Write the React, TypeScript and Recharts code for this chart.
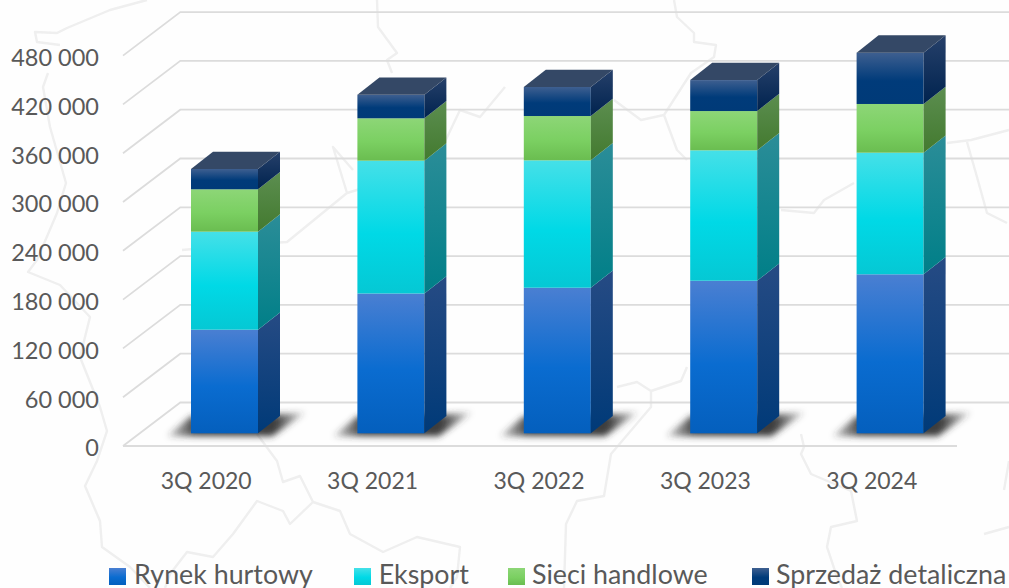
import { BarChart, Bar, XAxis, YAxis, CartesianGrid, Legend } from 'recharts';

const categories = ['3Q 2020', '3Q 2021', '3Q 2022', '3Q 2023', '3Q 2024'];
const rynekHurtowy = [127400, 171900, 179000, 187600, 195500];
const eksport = [120500, 163300, 156600, 160300, 149500];
const sieciHandlowe = [52100, 52100, 54500, 48300, 59900];
const sprzedazDetaliczna = [25000, 29000, 35700, 38100, 63100];
const yTicks = [0, 60000, 120000, 180000, 240000, 300000, 360000, 420000, 480000];

const data = categories.map((name, i) => ({
  name,
  rynek: rynekHurtowy[i],
  eksport: eksport[i],
  sieci: sieciHandlowe[i],
  detal: sprzedazDetaliczna[i],
}));

// kolory: przód (góra, środek, dół) i bok (góra, dół)
const palettes = [
  { front: ['#4a7fd2', '#0a6cd0', '#045fbd'], side: ['#264b84', '#003a78'] },
  { front: ['#45e0e8', '#00d9e6', '#05c8d4'], side: ['#2b8d98', '#007f88'] },
  { front: ['#8dd677', '#7bd062', '#6abd50'], side: ['#5c8e50', '#437a2f'] },
  { front: ['#3e5f90', '#003b7a', '#003a78'], side: ['#26406a', '#00234f'] },
];

// geometria pseudo-3D
const WALL_DX = 57.3;
const WALL_DY = 43.5;
const BAR_OX = 18;
const BAR_OY = 12.7;
const DEPTH_X = 22;
const DEPTH_Y = 17.3;

// tło: blady kontur mapy
const mapLines = [
  'M147 0 L110 10 L67 28 L57 33 L35 32 L37 42 L60 45 M48 73 L43 87 L50 127 L66 183 L57 213 L37 260 L28 272 L60 285 L90 317 L80 357 L100 407 L107 431 L97 461 L85 486 L100 521 L102 547 L130 567 L150 588',
  'M257 434 L277 461 L283 482 L300 476 L313 502 L290 524 L283 511 L257 501 L233 534 L213 557 L187 552 L170 574 L165 588',
  'M313 502 L340 511 L350 534 L383 552 L417 537 L460 547 L457 577 L450 588',
  'M564 588 L566 524 L577 501 L604 496 L611 454 L651 407 L651 391 L637 382 L617 387 M651 391 L681 381 L687 367',
  'M801 434 L804 447 L801 454 L811 474 L851 491 L857 521 L831 527 L827 547 L837 577 L842 588',
  'M984 534 L1009 527 M1009 461 L1004 490',
  'M674 0 L677 17 L694 33 L694 42 L716 45 L714 57 L691 73 L664 115 L641 120 L614 100 M664 115 L677 150 L687 160',
  'M377 0 L378 27 L397 53 L387 60 L392 73 M505 87 L480 117 L460 110 L433 167 L347 193 L287 242 L240 245 L182 250 M347 193 L333 147 L353 170',
  'M1009 130 L971 140 L947 143 M967 142 L977 177 L987 213 L1007 223 M854 183 L824 200 L814 213 L781 210',
];

const formatTick = (v: number) => String(v).replace(/\B(?=(\d{3})+$)/g, ' ');

const gridLine = (props: any) => {
  const { x1, x2, y1, index } = props;
  const isFloor = Math.abs(y1 - 446) < 1;
  const d =
    `M${x1} ${y1} L${x1 + WALL_DX} ${y1 - WALL_DY} L${x2 + WALL_DX} ${y1 - WALL_DY}` +
    (isFloor ? ` M${x1} ${y1} L${x2 + 2} ${y1}` : '');
  return <path key={`grid-${index}`} d={d} fill="none" stroke="#dcdcdc" strokeWidth={1.8} />;
};

// słupek z bokiem, a dla serii skrajnych także z cieniem lub wierzchem
const box3d = (series: number) => (props: any) => {
  const { width: w, height: h, index } = props;
  const x = props.x + BAR_OX;
  const y = props.y - BAR_OY;
  const base = y + h;
  return (
    <g key={`box-${series}-${index}`}>
      {series === 0 && (
        <polygon
          points={`${x - 24},${base + 3} ${x},${base - 17} ${x + w + 22},${base - 19} ${x + w + 48},${base - 21} ${x + w + 14},${base + 3}`}
          fill="url(#shadowFill)"
          filter="url(#shadowBlur)"
        />
      )}
      <rect x={x} y={y} width={w} height={h} fill={`url(#front${series})`} />
      <polygon
        points={`${x + w},${y} ${x + w + DEPTH_X},${y - DEPTH_Y} ${x + w + DEPTH_X},${base - DEPTH_Y} ${x + w},${base}`}
        fill={`url(#side${series})`}
      />
      {series === 3 && (
        <polygon
          points={`${x},${y} ${x + DEPTH_X},${y - DEPTH_Y} ${x + w + DEPTH_X},${y - DEPTH_Y} ${x + w},${y}`}
          fill="#344866"
        />
      )}
    </g>
  );
};

const legendSlots = [
  { icon: 109, text: 134 },
  { icon: 354, text: 378.7 },
  { icon: 508, text: 532 },
  { icon: 752, text: 776 },
];

const renderLegend = (props: any) => (
  <svg width={1009} height={30} style={{ display: 'block', overflow: 'visible' }}>
    {(props.payload || []).map((item: any, i: number) => (
      <g key={item.value}>
        <rect x={legendSlots[i].icon} y={10} width={17} height={17} fill={`url(#front${i})`} />
        <text x={legendSlots[i].text} y={25.5} fontSize={26.8} fill="#595959" fontFamily="Lato">
          {item.value}
        </text>
      </g>
    ))}
  </svg>
);

const App = () => {
  return (
    <div style={{ position: 'absolute', left: 0, top: 0, width: 1009, height: 588, overflow: 'hidden', background: '#fefefe' }}>
      <svg width={1009} height={588} style={{ position: 'absolute', left: 0, top: 0 }}>
        <defs>
          <filter id="mapBlur">
            <feGaussianBlur stdDeviation="0.7" />
          </filter>
        </defs>
        <g filter="url(#mapBlur)">
          {mapLines.map((d, i) => (
            <path key={i} d={d} fill="none" stroke="#efefef" strokeWidth={2.4} strokeLinejoin="round" />
          ))}
        </g>
      </svg>
      <BarChart
        width={1009}
        height={588}
        data={data}
        barSize={67}
        margin={{ top: 55.6, right: 54, bottom: 52, left: 0 }}
        style={{ position: 'absolute', left: 0, top: 0 }}
      >
        <defs>
          {palettes.map((p, i) => (
            <linearGradient key={`f${i}`} id={`front${i}`} x1="0" y1="0" x2="0" y2="1">
              <stop offset="0%" stopColor={p.front[0]} />
              <stop offset="55%" stopColor={p.front[1]} />
              <stop offset="100%" stopColor={p.front[2]} />
            </linearGradient>
          ))}
          {palettes.map((p, i) => (
            <linearGradient key={`s${i}`} id={`side${i}`} x1="0" y1="0" x2="0" y2="1">
              <stop offset="0%" stopColor={p.side[0]} />
              <stop offset="100%" stopColor={p.side[1]} />
            </linearGradient>
          ))}
          <linearGradient id="shadowFill" x1="0" y1="0" x2="1" y2="0">
            <stop offset="0%" stopColor="#333" stopOpacity={0.2} />
            <stop offset="20%" stopColor="#333" stopOpacity={0.9} />
            <stop offset="78%" stopColor="#333" stopOpacity={0.95} />
            <stop offset="100%" stopColor="#333" stopOpacity={0.1} />
          </linearGradient>
          <filter id="shadowBlur" x="-20%" y="-40%" width="140%" height="180%">
            <feGaussianBlur stdDeviation="3" />
          </filter>
        </defs>
        <CartesianGrid vertical={false} horizontal={gridLine} />
        <XAxis
          dataKey="name"
          axisLine={false}
          tickLine={false}
          height={60}
          tickMargin={21}
          tick={{ fontSize: 23, fill: '#595959', fontFamily: 'Lato' }}
        />
        <YAxis
          width={123}
          domain={[0, 480000]}
          ticks={yTicks}
          tickFormatter={formatTick}
          axisLine={false}
          tickLine={false}
          tickMargin={18}
          tick={{ fontSize: 23.5, fill: '#595959', fontFamily: 'Lato', dy: 2 }}
        />
        <Legend
          height={30}
          content={renderLegend}
          itemSorter={null}
          wrapperStyle={{ left: 0, top: 558, bottom: 'auto', width: 1009 }}
        />
        <Bar dataKey="rynek" name="Rynek hurtowy" stackId="a" fill="#0a6cd0" shape={box3d(0)} isAnimationActive={false} />
        <Bar dataKey="eksport" name="Eksport" stackId="a" fill="#00d9e6" shape={box3d(1)} isAnimationActive={false} />
        <Bar dataKey="sieci" name="Sieci handlowe" stackId="a" fill="#7bd062" shape={box3d(2)} isAnimationActive={false} />
        <Bar dataKey="detal" name="Sprzedaż detaliczna" stackId="a" fill="#003b7a" shape={box3d(3)} isAnimationActive={false} />
      </BarChart>
    </div>
  );
};

export default App;
